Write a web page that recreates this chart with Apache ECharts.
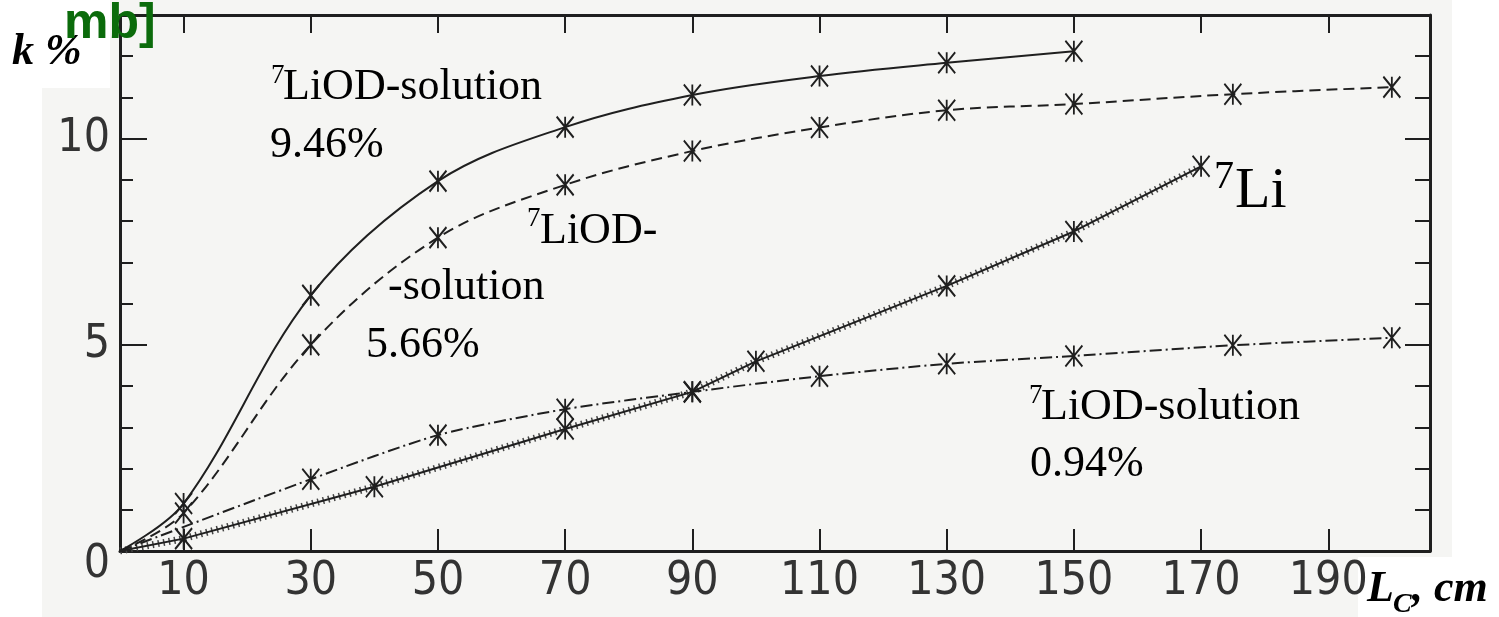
<!DOCTYPE html>
<html>
<head>
<meta charset="utf-8">
<script src="https://cdn.jsdelivr.net/npm/echarts@6/dist/echarts.min.js"></script>
<style>
html,body{margin:0;padding:0;background:#ffffff;}
#chart{width:1499px;height:617px;}
</style>
</head>
<body>
<div id="chart"></div>
<script>
// ---- data ----
const solidX  = [0, 10, 30, 50, 70, 90, 110, 130, 150];
const solidY  = [0, 1.15, 6.2, 8.97, 10.28, 11.06, 11.52, 11.84, 12.12];

const dashedX = [0, 10, 30, 50, 70, 90, 110, 130, 150, 175, 200];
const dashedY = [0, 0.92, 5.0, 7.6, 8.88, 9.7, 10.27, 10.69, 10.84, 11.08, 11.25];

const liX     = [0, 10, 40, 70, 90, 100, 130, 150, 170];
const liY     = [0, 0.3, 1.56, 2.96, 3.86, 4.6, 6.43, 7.75, 9.33];

const ddX     = [0, 30, 50, 70, 90, 110, 130, 150, 175, 200];
const ddY     = [0, 1.74, 2.81, 3.44, 3.86, 4.24, 4.54, 4.73, 4.99, 5.17];

const xTickLabels = [10, 30, 50, 70, 90, 110, 130, 150, 170, 190];
const yTickLabels = [0, 5, 10];
const yMinorTicks = [1, 2, 3, 4, 6, 7, 8, 9, 11, 12];
const yMajorTicks = [5, 10];

// ---- build ----
const INK = '#1f1f1f';
const NARROW = "'Liberation Sans Narrow','DejaVu Sans Condensed',sans-serif";
const SERIF = "'Liberation Serif','DejaVu Serif',serif";
const STAR = 'path://M0 0L16 20M16 0L0 20M8 0L8 20';

function pts(xs, ys) {
  return xs.map((x, i) => i === 0 ? { value: [x, ys[i]], symbol: 'none' } : [x, ys[i]]);
}
const markerStyle = { color: 'rgba(0,0,0,0)', borderColor: INK, borderWidth: 2 };

const chart = echarts.init(document.getElementById('chart'), null, { renderer: 'canvas', width: 1499, height: 617 });

function yAxisCfg(pos, ticks, len, showLabel, showLine) {
  return {
    type: 'value', min: 0, max: 13, position: pos,
    axisLine: { show: showLine, onZero: false, lineStyle: { color: INK, width: 3 } },
    axisTick: { show: true, inside: true, length: len, customValues: ticks, lineStyle: { color: INK, width: 2 } },
    axisLabel: showLabel ? {
      show: true, customValues: yTickLabels, margin: 10,
      fontFamily: NARROW, fontSize: 46, color: '#333',
      formatter: v => v === 0 ? '{z|0}' : String(v),
      rich: { z: { fontFamily: NARROW, fontSize: 46, color: '#333', padding: [28, 0, 0, 0] } }
    } : { show: false },
    splitLine: { show: false }
  };
}

const option = {
  backgroundColor: '#f5f5f3',
  animation: false,
  grid: { left: 120, right: 69, top: 15, bottom: 66, show: false },
  xAxis: [
    {
      type: 'value', min: 0, max: 206, position: 'bottom',
      axisLine: { show: true, onZero: false, lineStyle: { color: INK, width: 3 } },
      axisTick: { show: true, inside: true, length: 22, customValues: xTickLabels, lineStyle: { color: INK, width: 2 } },
      axisLabel: { show: true, customValues: xTickLabels, margin: 8, fontFamily: NARROW, fontSize: 46, color: '#333' },
      splitLine: { show: false }
    },
    {
      type: 'value', min: 0, max: 206, position: 'top',
      axisLine: { show: true, onZero: false, lineStyle: { color: INK, width: 3 } },
      axisTick: { show: true, inside: true, length: 18, customValues: xTickLabels, lineStyle: { color: INK, width: 2 } },
      axisLabel: { show: false },
      splitLine: { show: false }
    }
  ],
  yAxis: [
    yAxisCfg('left', yMinorTicks, 13, true, true),
    yAxisCfg('left', yMajorTicks, 27, false, false),
    yAxisCfg('right', yMinorTicks, 15, false, true),
    yAxisCfg('right', yMajorTicks, 25, false, false)
  ],
  series: [
    {
      name: '7LiOD 9.46%', type: 'line', data: pts(solidX, solidY), smooth: 0.35,
      symbol: STAR, symbolSize: [17, 21], itemStyle: markerStyle,
      lineStyle: { color: INK, width: 2 }, silent: true, z: 3
    },
    {
      name: '7LiOD 5.66%', type: 'line', data: pts(dashedX, dashedY), smooth: 0.35,
      symbol: STAR, symbolSize: [17, 21], itemStyle: markerStyle,
      lineStyle: { color: INK, width: 2, type: [11, 6] }, silent: true, z: 3
    },
    {
      name: '7LiOD 0.94%', type: 'line', data: pts(ddX, ddY), smooth: 0.25,
      symbol: STAR, symbolSize: [17, 21], itemStyle: markerStyle,
      lineStyle: { color: INK, width: 2, type: [12, 4, 2, 4] }, silent: true, z: 3
    },
    {
      name: '7Li', type: 'line', data: pts(liX, liY),
      symbol: STAR, symbolSize: [17, 21], itemStyle: markerStyle,
      lineStyle: { color: INK, width: 2 }, silent: true, z: 3
    },
    {
      name: '7Li hatch', type: 'line', data: pts(liX, liY), symbol: 'none',
      lineStyle: { color: '#444', width: 7, type: [1.5, 4], cap: 'butt' }, silent: true, z: 2
    }
  ],
  graphic: [
    // white areas around the scanned figure
    { type: 'rect', shape: { x: 0, y: 0, width: 42, height: 617 }, style: { fill: '#ffffff' }, silent: true, z: -5 },
    { type: 'rect', shape: { x: 1452, y: 0, width: 47, height: 617 }, style: { fill: '#ffffff' }, silent: true, z: -5 },
    { type: 'rect', shape: { x: 0, y: 0, width: 110, height: 88 }, style: { fill: '#ffffff' }, silent: true, z: -5 },
    { type: 'rect', shape: { x: 1358, y: 557, width: 141, height: 60 }, style: { fill: '#ffffff' }, silent: true, z: -5 },

    // axis titles
    { type: 'text', x: 12, y: 53, style: { text: 'k %', font: 'italic bold 44px ' + SERIF, fill: '#000', verticalAlign: 'middle' }, z: 10 },
    { type: 'text', x: 64, y: 24, style: { text: 'mb]', font: 'bold 50px "Liberation Sans",Arial,sans-serif', fill: '#0b6b0b', verticalAlign: 'middle' }, z: 10 },
    { type: 'text', x: 1367, y: 590, style: { text: 'L', font: 'italic bold 44px ' + SERIF, fill: '#000', verticalAlign: 'middle' }, z: 10 },
    { type: 'text', x: 1393, y: 605, style: { text: 'C', font: 'italic bold 28px ' + SERIF, fill: '#000', verticalAlign: 'middle' }, z: 10 },
    { type: 'text', x: 1412, y: 590, style: { text: ', cm', font: 'italic bold 44px ' + SERIF, fill: '#000', verticalAlign: 'middle' }, z: 10 },

    // curve annotations
    { type: 'text', x: 271, y: 76, style: { text: '7', font: '27px ' + SERIF, fill: '#000', verticalAlign: 'middle' }, z: 10 },
    { type: 'text', x: 283, y: 87, style: { text: 'LiOD-solution', font: '44px ' + SERIF, fill: '#000', verticalAlign: 'middle' }, z: 10 },
    { type: 'text', x: 270, y: 145, style: { text: '9.46%', font: '44px ' + SERIF, fill: '#000', verticalAlign: 'middle' }, z: 10 },

    { type: 'text', x: 527, y: 219, style: { text: '7', font: '27px ' + SERIF, fill: '#000', verticalAlign: 'middle' }, z: 10 },
    { type: 'text', x: 540, y: 231, style: { text: 'LiOD-', font: '44px ' + SERIF, fill: '#000', verticalAlign: 'middle' }, z: 10 },
    { type: 'text', x: 388, y: 287, style: { text: '-solution', font: '44px ' + SERIF, fill: '#000', verticalAlign: 'middle' }, z: 10 },
    { type: 'text', x: 366, y: 345, style: { text: '5.66%', font: '44px ' + SERIF, fill: '#000', verticalAlign: 'middle' }, z: 10 },

    { type: 'text', x: 1214, y: 177, style: { text: '7', font: '40px ' + SERIF, fill: '#000', verticalAlign: 'middle' }, z: 10 },
    { type: 'text', x: 1235, y: 192, style: { text: 'Li', font: '58px ' + SERIF, fill: '#000', verticalAlign: 'middle' }, z: 10 },

    { type: 'text', x: 1029, y: 396, style: { text: '7', font: '27px ' + SERIF, fill: '#000', verticalAlign: 'middle' }, z: 10 },
    { type: 'text', x: 1041, y: 407, style: { text: 'LiOD-solution', font: '44px ' + SERIF, fill: '#000', verticalAlign: 'middle' }, z: 10 },
    { type: 'text', x: 1030, y: 464, style: { text: '0.94%', font: '44px ' + SERIF, fill: '#000', verticalAlign: 'middle' }, z: 10 }
  ]
};
chart.setOption(option);
</script>
</body>
</html>
